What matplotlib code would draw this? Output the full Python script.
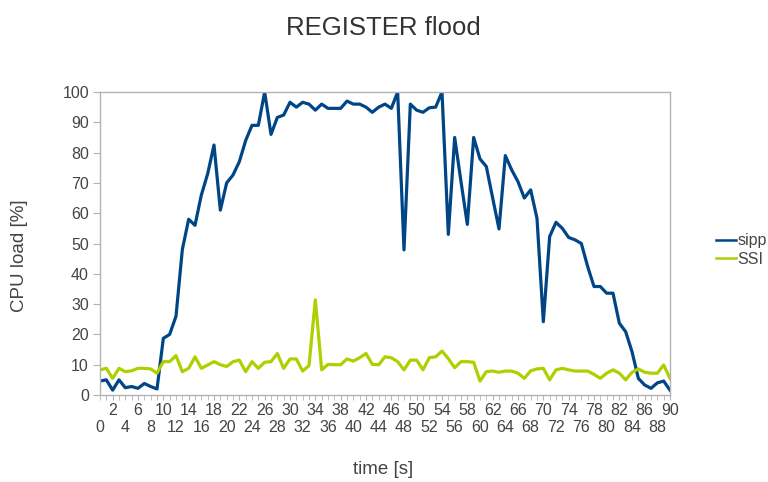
import matplotlib
matplotlib.use('Agg')
import matplotlib.pyplot as plt

plt.rcParams['font.family'] = ['Liberation Sans', 'DejaVu Sans']

# time axis, one sample per second
t = list(range(0, 91))

sipp = [4.6, 5, 1.6, 5, 2.4, 2.8, 2.2, 3.8, 2.8, 2,
        18.7, 20, 26, 48, 58, 56, 66, 73, 82.5, 61,
        70, 72.6, 77, 84, 89, 89, 100, 86, 91.6, 92.4,
        96.6, 95, 96.6, 96, 94, 96, 94.6, 94.6, 94.6, 97,
        96, 96, 95, 93.3, 95, 96, 94.6, 100, 47.9, 96,
        94, 93.3, 94.8, 95, 100, 53, 85, 70.4, 56.3, 85,
        77.9, 75.4, 65, 54.8, 79, 74.3, 70.4, 65, 67.7, 58.3,
        24.2, 52.3, 57, 55, 52, 51.2, 50, 42.4, 35.8, 35.8,
        33.6, 33.6, 23.7, 20.9, 14.3, 5.5, 3.3, 2.2, 4, 4.6,
        1.6]

ssi = [8.3, 8.8, 5.5, 8.8, 7.7, 8, 8.8, 8.8, 8.6, 7.2,
       11, 11, 13, 7.7, 8.8, 12.6, 8.8, 9.9, 11, 10,
       9.4, 11, 11.5, 7.7, 11, 8.8, 10.8, 11, 13.7, 8.8,
       11.9, 11.9, 7.9, 9.7, 31.4, 8.3, 10.1, 10, 10, 11.9,
       11.2, 12.3, 13.7, 10.1, 10, 12.6, 12.3, 11, 8.3, 11.5,
       11.5, 8.3, 12.3, 12.6, 14.5, 12, 9, 11, 11, 10.8,
       4.6, 7.7, 7.9, 7.5, 7.9, 7.9, 7.2, 5.5, 8, 8.6,
       8.8, 5, 8.3, 8.8, 8.3, 7.9, 7.9, 7.9, 6.8, 5.5,
       7.2, 8.3, 7.2, 5, 7.5, 8.6, 7.5, 7.2, 7.2, 9.9,
       5.5]

# staggered labels: upper row on major ticks, lower row on minor ticks
top_ticks = [v for v in t if v % 4 == 2]
low_ticks = [v for v in t if v % 4 != 2]
low_labels = [str(v) if v % 4 == 0 else '' for v in low_ticks]

fig = plt.figure(figsize=(7.68, 4.82), dpi=100)
ax = fig.add_axes([100/768, 1 - 395/482, 570/768, 303/482])

l1, = ax.plot(t, sipp, color='#004586', linewidth=2.3, label='sipp')
l2, = ax.plot(t, ssi, color='#aecf00', linewidth=2.3, label='SSI')

ax.set_xlim(0, 90)
ax.set_ylim(0, 100)
ax.set_yticks(range(0, 101, 10))
ax.set_xticks(top_ticks)
ax.set_xticklabels([str(v) for v in top_ticks])
ax.set_xticks(low_ticks, minor=True)
ax.set_xticklabels(low_labels, minor=True)

for s in ax.spines.values():
    s.set_color('#b3b3b3')
    s.set_linewidth(1)

ax.tick_params(axis='y', direction='out', length=5, color='#b3b3b3',
               labelsize=11.5, labelcolor='#444444', pad=3)
ax.tick_params(axis='x', which='major', direction='out', length=3.5,
               color='#b3b3b3', labelsize=11.5, labelcolor='#444444', pad=2)
ax.tick_params(axis='x', which='minor', direction='out', length=3.5,
               color='#b3b3b3', labelsize=11.5, labelcolor='#444444', pad=14.5)

fig.text(383/768, 1 - 28/482, 'REGISTER flood', ha='center', va='center',
         fontsize=18.5, color='#333333')
fig.text(20/768, 1 - 256/482, 'CPU load [%]', ha='center', va='center',
         rotation=90, fontsize=13.5, color='#444444')
fig.text(383/768, 1 - 470/482, 'time [s]', ha='center', va='center',
         fontsize=13.5, color='#444444')

leg = fig.legend(handles=[l1, l2], loc='center left',
                 bbox_to_anchor=(710/768, 1 - 250/482), frameon=False,
                 fontsize=11.5, handlelength=1.2, handletextpad=0.1,
                 labelspacing=0.2, borderaxespad=0)
for h in leg.get_lines():
    h.set_linewidth(1.8)
for txt in leg.get_texts():
    txt.set_color('#444444')

fig.savefig('out.png', dpi=100)
